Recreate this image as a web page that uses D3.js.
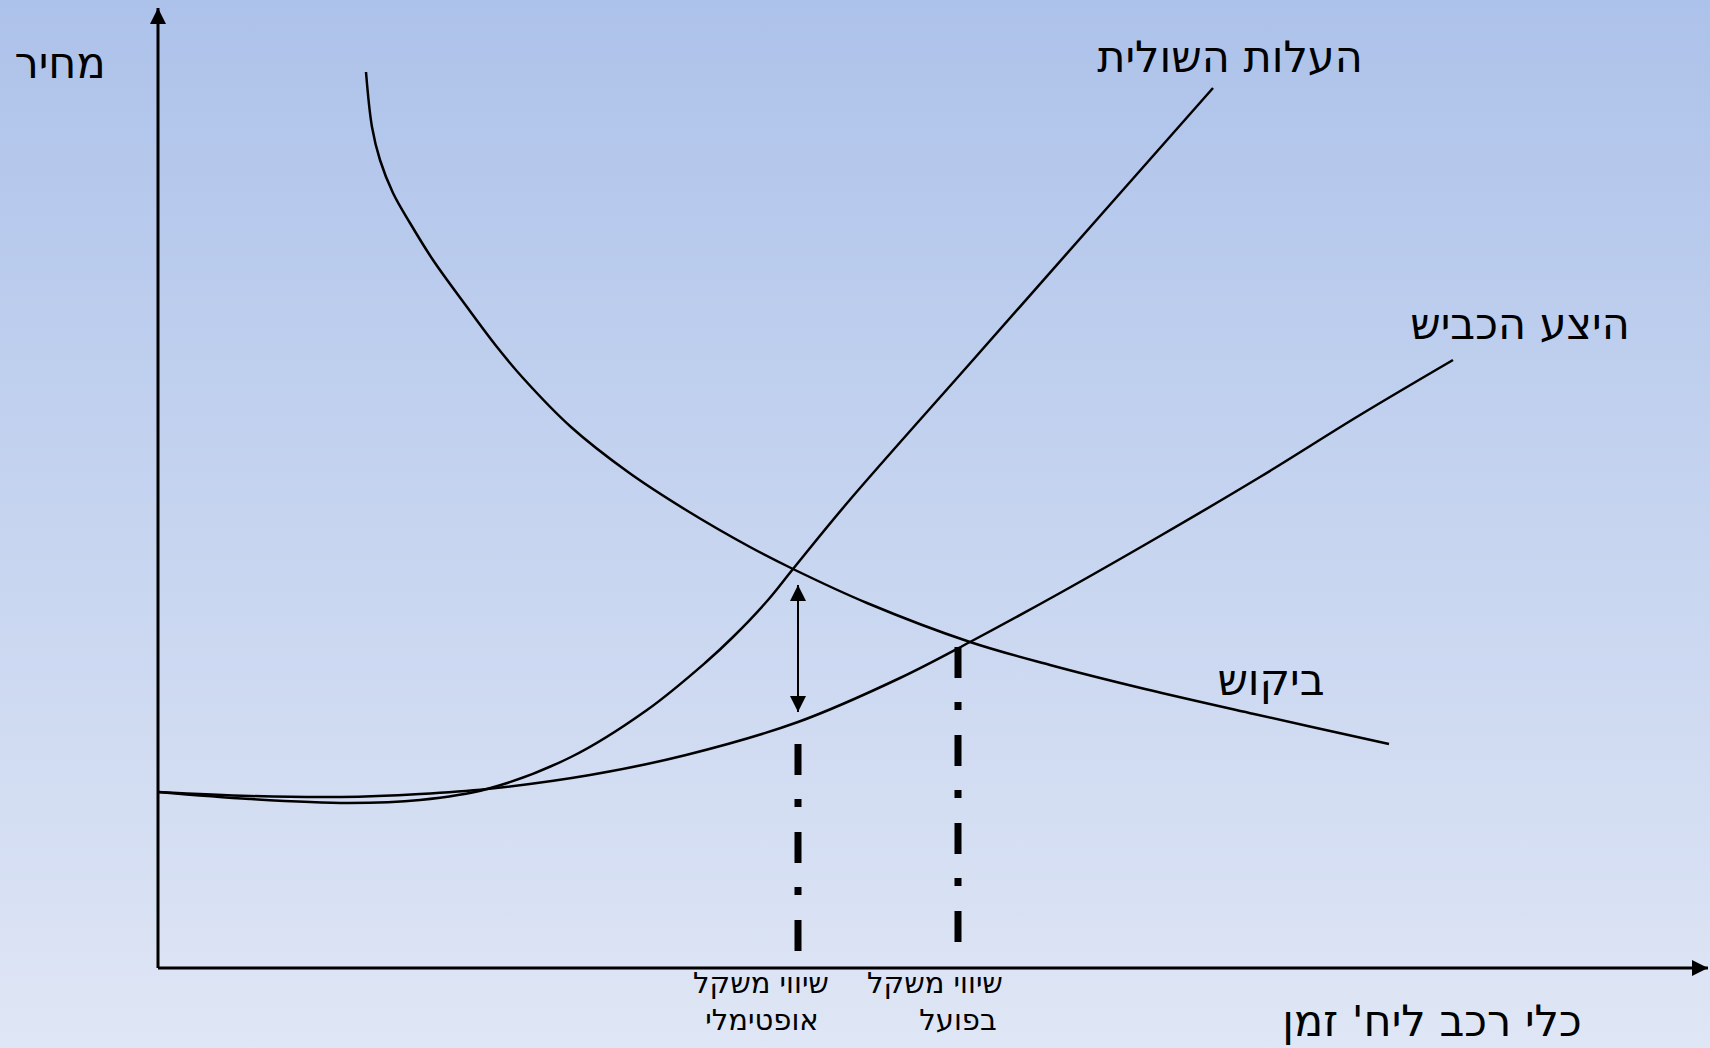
<!DOCTYPE html>
<html lang="he">
<head>
<meta charset="utf-8">
<script src="https://cdn.jsdelivr.net/npm/d3@7"></script>
<style>
  html, body { margin: 0; padding: 0; overflow: hidden; }
  svg { display: block; }
  text { font-family: "DejaVu Sans", sans-serif; fill: #000; }
</style>
</head>
<body>
<div id="chart"></div>
<script>
// Curves: [quantity, price]
const demand = [
  [20.8, 89.6], [21.4, 84.1], [22.2, 80.8], [23.5, 77.5], [25.2, 74.5],
  [27.5, 70.8], [30.9, 66.1], [33.9, 62.1], [36.5, 59.0], [41.3, 54.1],
  [47.0, 49.6], [52.8, 45.8], [59.2, 42.1], [63.5, 39.9], [70.9, 36.5],
  [81.2, 32.6], [89.2, 30.3], [98.7, 27.9], [109.6, 25.4], [123.1, 22.4]
];
const marginalCost = [
  [0, 17.6], [9.2, 16.9], [19.1, 16.5], [26.2, 16.8], [32.9, 17.9],
  [41.3, 21.1], [48.9, 25.8], [54.7, 30.5], [57.5, 33.1], [61.0, 36.8],
  [63.5, 39.9], [69.0, 46.6], [81.5, 60.8], [94.2, 75.2], [105.5, 88.0]
];
const roadSupply = [
  [0, 17.6], [9.2, 17.2], [18.3, 17.1], [26.2, 17.4], [32.9, 17.9],
  [43.2, 19.3], [52.8, 21.3], [64.0, 24.6], [74.2, 29.0], [81.2, 32.6],
  [90.2, 37.5], [100.2, 43.2], [110.2, 49.1], [120.2, 55.3], [129.5, 60.8]
];

// Equilibria: quantity and the span of the dash-dot drop line
const optimalEq = { q: 64.0, top: 22.4, bottom: 1.6 };
const actualEq = { q: 80.0, top: 32.1, bottom: 2.5 };
// Gap between the curves at the optimal quantity (double arrow)
const welfareGap = { top: 38.3, bottom: 25.6 };

const curveLabels = ["ביקוש", "העלות השולית", "היצע הכביש"];
const axisLabels = { x: "כלי רכב ליח' זמן", y: "מחיר" };
const optimalLabel = ["שיווי משקל", "אופטימלי"];
const actualLabel = ["שיווי משקל", "בפועל"];

const width = 1710, height = 1048;

const x = d3.scaleLinear().domain([0, 155]).range([158, 1708]);
const y = d3.scaleLinear().domain([0, 96]).range([968, 8]);

const svg = d3.select("#chart").append("svg")
  .attr("width", width)
  .attr("height", height);

// Background gradient
const defs = svg.append("defs");
const grad = defs.append("linearGradient")
  .attr("id", "bg").attr("x1", 0).attr("y1", 0).attr("x2", 0).attr("y2", 1);
grad.append("stop").attr("offset", "0%").attr("stop-color", "#adc2ea");
grad.append("stop").attr("offset", "100%").attr("stop-color", "#dfe6f5");
svg.append("rect").attr("width", width).attr("height", height).attr("fill", "url(#bg)");

// Arrow markers
function addMarker(id, w, h) {
  defs.append("marker")
    .attr("id", id)
    .attr("viewBox", `0 0 ${w} ${h}`)
    .attr("refX", w).attr("refY", h / 2)
    .attr("markerWidth", w).attr("markerHeight", h)
    .attr("markerUnits", "userSpaceOnUse")
    .attr("orient", "auto-start-reverse")
    .append("path")
    .attr("d", `M0,0L${w},${h / 2}L0,${h}Z`)
    .attr("fill", "#000");
}
addMarker("axisHead", 16, 16);
addMarker("gapHead", 16, 16);

// Axes
const x0 = x(0), y0 = y(0);
svg.append("line")
  .attr("x1", x0).attr("y1", y0).attr("x2", x0).attr("y2", y.range()[1])
  .attr("stroke", "#000").attr("stroke-width", 3)
  .attr("marker-end", "url(#axisHead)");
svg.append("line")
  .attr("x1", x0).attr("y1", y0).attr("x2", x.range()[1]).attr("y2", y0)
  .attr("stroke", "#000").attr("stroke-width", 3)
  .attr("marker-end", "url(#axisHead)");

// Curves
const line = d3.line()
  .x(d => x(d[0]))
  .y(d => y(d[1]))
  .curve(d3.curveCatmullRom.alpha(0.5));

[demand, marginalCost, roadSupply].forEach(data => {
  svg.append("path")
    .attr("d", line(data))
    .attr("fill", "none")
    .attr("stroke", "#000")
    .attr("stroke-width", 2.5);
});

// Dash-dot drop lines
[optimalEq, actualEq].forEach(eq => {
  svg.append("line")
    .attr("x1", x(eq.q)).attr("x2", x(eq.q))
    .attr("y1", y(eq.top)).attr("y2", y(eq.bottom))
    .attr("stroke", "#000")
    .attr("stroke-width", 7)
    .attr("stroke-dasharray", "31 24 8 25");
});

// Double arrow between MC and supply
svg.append("line")
  .attr("x1", x(optimalEq.q)).attr("x2", x(optimalEq.q))
  .attr("y1", y(welfareGap.bottom)).attr("y2", y(welfareGap.top))
  .attr("stroke", "#000").attr("stroke-width", 2)
  .attr("marker-start", "url(#gapHead)")
  .attr("marker-end", "url(#gapHead)");

// Curve labels, placed off each curve's end
const bigFont = 43;
const ends = [demand, marginalCost, roadSupply].map(d => d[d.length - 1]);
const labelOffsets = [[-118, -49], [17, -16], [67, -21]];
curveLabels.forEach((t, i) => {
  svg.append("text")
    .attr("x", x(ends[i][0]) + labelOffsets[i][0])
    .attr("y", y(ends[i][1]) + labelOffsets[i][1])
    .attr("text-anchor", "middle")
    .attr("font-size", bigFont)
    .text(t);
});

// Axis titles
svg.append("text")
  .attr("x", x0 - 98).attr("y", 78)
  .attr("text-anchor", "middle")
  .attr("font-size", bigFont)
  .text(axisLabels.y);
svg.append("text")
  .attr("x", x.range()[1] - 276).attr("y", y0 + 68)
  .attr("text-anchor", "middle")
  .attr("font-size", bigFont)
  .text(axisLabels.x);

// Equilibrium labels below the x axis
function eqLabel(lines, q, dxs) {
  lines.forEach((t, i) => {
    svg.append("text")
      .attr("x", x(q) + dxs[i])
      .attr("y", y0 + 25 + i * 37)
      .attr("text-anchor", "middle")
      .attr("font-size", 29)
      .text(t);
  });
}
eqLabel(optimalLabel, optimalEq.q, [-37, -36]);
eqLabel(actualLabel, actualEq.q, [-23, 0]);
</script>
</body>
</html>
